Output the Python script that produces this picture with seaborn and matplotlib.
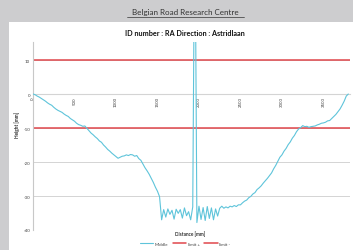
import numpy as np
import pandas as pd
import seaborn as sns
import matplotlib.pyplot as plt
from matplotlib.patches import Rectangle

# profile measured every 25 mm
distance = list(range(0, 3825, 25))
height = [
    0.0, -0.2, -0.6, -0.9, -1.3, -1.7, -2.1, -2.6, -3.0, -3.3,
    -3.9, -4.4, -4.8, -5.1, -5.4, -5.9, -6.3, -6.6, -7.2, -7.6,
    -8.0, -8.6, -9.0, -9.2, -9.5, -9.4, -10.1, -10.8, -11.5, -12.0,
    -12.6, -13.1, -13.8, -14.2, -15.0, -15.6, -16.3, -16.8, -17.4, -17.9,
    -18.4, -18.9, -18.6, -18.3, -18.2, -17.9, -18.1, -17.8, -17.9, -18.3,
    -18.1, -19.0, -19.5, -20.6, -21.7, -22.6, -23.6, -24.8, -26.0, -27.4,
    -28.6, -30.2, -37.0, -34.0, -36.2, -33.8, -35.4, -34.2, -36.8, -33.9,
    -35.1, -34.0, -36.5, -33.5, -35.8, -34.6, -37.0, -33.2, 60.0, -37.8,
    -33.0, -36.9, -33.4, -37.2, -33.1, -36.6, -33.5, -37.0, -33.8, -35.9,
    -33.6, -33.0, -33.6, -33.2, -33.5, -33.0, -33.2, -32.8, -33.1, -32.6,
    -32.6, -32.0, -31.5, -31.2, -30.5, -30.1, -29.4, -29.0, -28.1, -27.6,
    -27.0, -26.2, -25.5, -24.8, -24.0, -23.2, -22.0, -21.0, -19.8, -18.6,
    -17.9, -16.8, -16.0, -14.9, -14.1, -13.0, -12.2, -11.1, -10.3, -9.9,
    -9.3, -9.6, -9.5, -9.8, -9.6, -9.5, -9.4, -9.1, -8.9, -8.6,
    -8.5, -8.3, -7.9, -7.8, -7.2, -6.6, -6.0, -5.2, -4.4, -3.3,
    -2.1, -0.6, 0.0,
]
limit_plus = 10
limit_minus = -10
x_ticks = [0, 500, 1000, 1500, 2000, 2500, 3000, 3500]
y_ticks = [10, 0, -10, -20, -30, -40]

df = pd.DataFrame({"Distance": distance, "Height": height})

sns.set_style("white")
plt.rcParams["font.family"] = ["Lato", "DejaVu Sans"]

fig = plt.figure(figsize=(3.53, 2.51), dpi=100)
fig.patch.set_facecolor("#cdcdcf")
fig.patches.append(Rectangle((9 / 353, 0), 1, 1 - 23 / 251, transform=fig.transFigure,
                             facecolor="white", edgecolor="none", zorder=-10))

ax = fig.add_axes([33 / 353, 20 / 251, 317 / 353, 188 / 251])
ax.set_facecolor("white")

for yv in y_ticks:
    ax.axhline(yv, color="#d4d4d4", lw=0.7, zorder=1)

sns.lineplot(data=df, x="Distance", y="Height", ax=ax, color="#5ec4da", lw=0.8,
             label="Middle", zorder=3)
ax.axhline(limit_plus, color="#e0464b", lw=1.1, label="limit +", zorder=2)
ax.axhline(limit_minus, color="#e0464b", lw=1.1, label="limit -", zorder=2)

# x axis crosses at height 0
ax.spines["bottom"].set_position(("data", 0))
ax.spines["bottom"].set_color("#d4d4d4")
ax.spines["left"].set_color("#c8c8c8")
ax.spines["left"].set_linewidth(0.8)
ax.spines["top"].set_visible(False)
ax.spines["right"].set_visible(False)

ax.set_xlim(0, 3820)
ax.set_ylim(-40, 15.3)
ax.set_yticks(y_ticks)
ax.set_yticklabels([str(v) for v in y_ticks])
ax.set_xticks(x_ticks)
ax.set_xticklabels([str(v) for v in x_ticks])
ax.tick_params(axis="both", length=0, labelsize=3.2, labelcolor="#404040")
ax.tick_params(axis="y", pad=2)
ax.tick_params(axis="x", pad=1.5, labelrotation=90)
ax.set_xlabel("")
ax.set_ylabel("")

leg = ax.legend(loc="upper center", bbox_to_anchor=(0.48, -0.04), ncol=3, frameon=False,
                fontsize=3.2, handlelength=3, columnspacing=1.0, handletextpad=0.4)
for t in leg.get_texts():
    t.set_color("#404040")

fig.text(190 / 353, 1 - 234 / 251, "Distance [mm]", fontsize=3.4, fontweight="bold",
         ha="center", va="center", color="#303030")
fig.text(17 / 353, 1 - 125 / 251, "Height [mm]", fontsize=3.4, fontweight="bold",
         ha="center", va="center", rotation=90, color="#303030")
fig.text(185 / 353, 1 - 33 / 251, "ID number : RA Direction : Astridlaan", fontsize=5.2,
         fontweight="bold", ha="center", va="center", color="#111111")
fig.text(185 / 353, 1 - 13 / 251, "Belgian Road Research Centre", fontsize=5.8,
         ha="center", va="center", color="#333333")
fig.add_artist(plt.Line2D([127 / 353, 244 / 353], [1 - 17.5 / 251, 1 - 17.5 / 251],
                          transform=fig.transFigure, color="#333333", lw=0.5))

fig.savefig("out.png", dpi=100, facecolor=fig.get_facecolor())
